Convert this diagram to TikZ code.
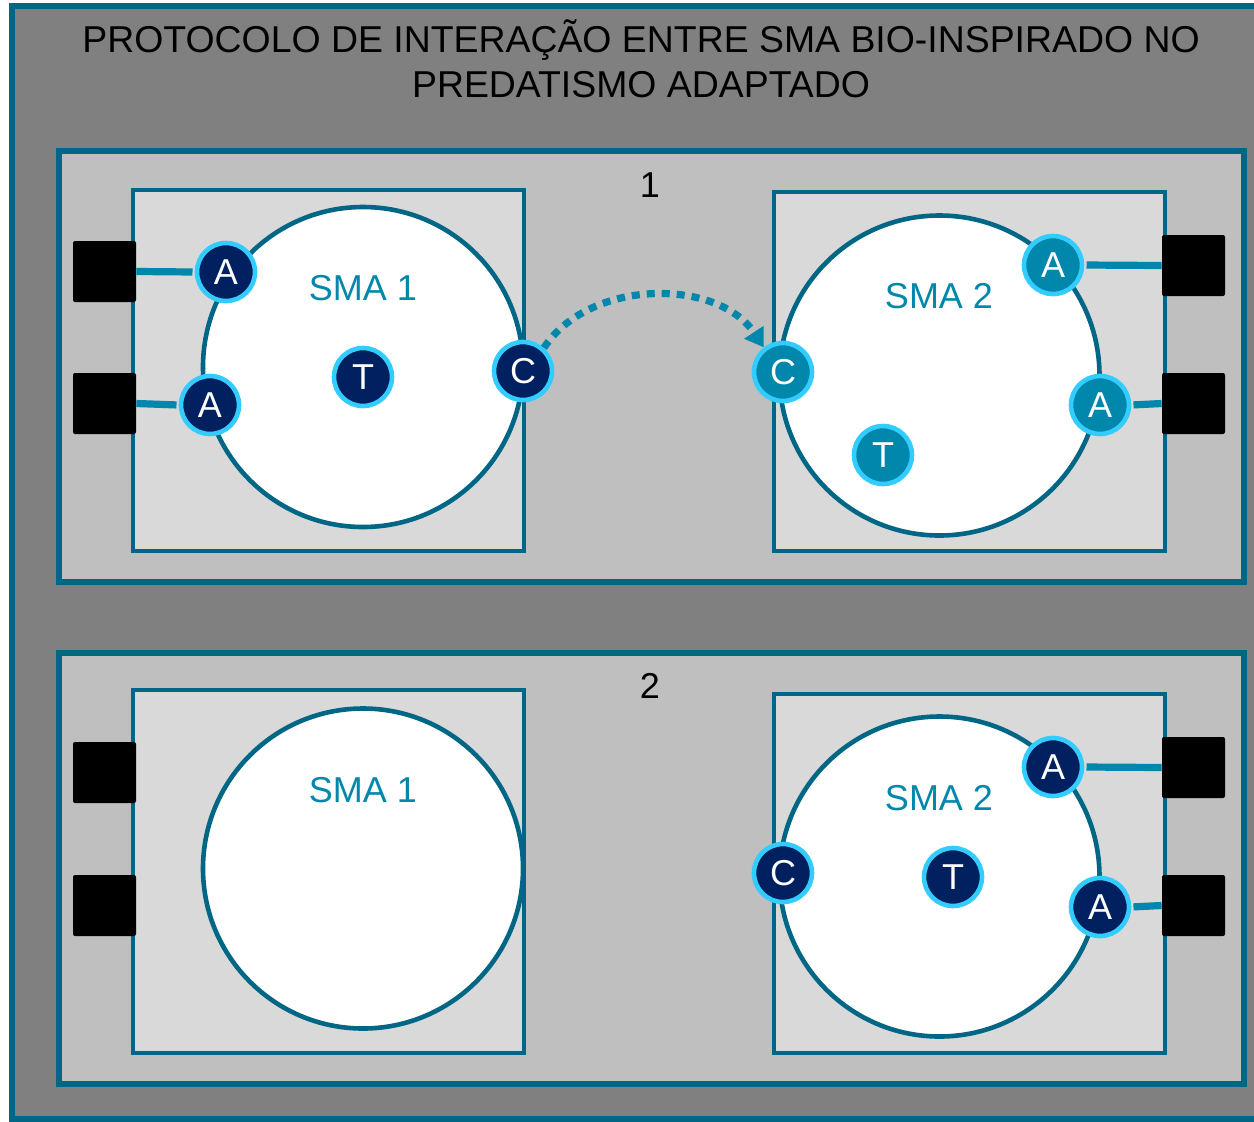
\documentclass[tikz,border=0pt]{standalone}
\usepackage{fontspec}
\setmainfont{Liberation Sans}
\usetikzlibrary{arrows.meta}
\definecolor{edgeteal}{HTML}{006685}
\definecolor{linkteal}{HTML}{0087AB}
\definecolor{navy}{HTML}{002060}
\definecolor{ring}{HTML}{33CCFF}
\definecolor{outergray}{HTML}{808080}
\definecolor{panelgray}{HTML}{BFBFBF}
\definecolor{boxgray}{HTML}{D9D9D9}
\tikzset{
  frame/.style={draw=edgeteal, line width=2.6pt, fill=panelgray},
  sysbox/.style={draw=edgeteal, line width=2pt, fill=boxgray},
  bigcirc/.style={circle, draw=edgeteal, line width=2.3pt, fill=white, minimum size=160pt, inner sep=0pt},
  port/.style={rectangle, fill=black, rounded corners=1pt, minimum width=31.5pt, minimum height=30.5pt, inner sep=0pt},
  agent/.style={circle, draw=ring, line width=2.3pt, minimum size=29pt, inner sep=0pt,
    text=white, font=\fontsize{18}{18}\selectfont},
  darkag/.style={agent, fill=navy},
  lightag/.style={agent, fill=linkteal},
  link/.style={draw=linkteal, line width=3.6pt, shorten >=1.1pt},
  smatext/.style={text=linkteal, font=\fontsize{18}{18}\selectfont, inner sep=0pt},
  numtext/.style={text=black, font=\fontsize{18}{18}\selectfont, inner sep=0pt},
}
\begin{document}
\begin{tikzpicture}[x=0.5pt,y=-0.5pt]
\clip (0,0) rectangle (1254,1121);
\fill[white] (0,0) rectangle (1254,1121);
% outer frame
\draw[frame, fill=outergray] (12,6) rectangle (1300,1119);
\node[align=center, font=\fontsize{18.7}{22.5}\selectfont, inner sep=0pt] (title) at (641,59)
  {PROTOCOLO DE INTERAÇÃO ENTRE SMA BIO-INSPIRADO NO\\PREDATISMO ADAPTADO};

% stage panels
\draw[frame] (59,151) rectangle (1244,582);
\draw[frame] (59,653) rectangle (1244,1084);
\node[numtext] (n1) at (650,185) {1};
\node[numtext] (n2) at (650,686) {2};

% system boxes
\draw[sysbox] (133,190) rectangle (524,551);
\draw[sysbox] (774,192) rectangle (1165,551);
\draw[sysbox] (133,690) rectangle (524,1053);
\draw[sysbox] (774,694) rectangle (1165,1053);

% environments
\node[bigcirc] (env11) at (363,367) {};
\node[bigcirc] (env12) at (939.5,375.5) {};
\node[bigcirc] (env21) at (363,868.5) {};
\node[bigcirc] (env22) at (939.5,876.5) {};

\node[smatext] (s11) at (363,288) {SMA 1};
\node[smatext] (s12) at (939,296) {SMA 2};
\node[smatext] (s21) at (363,790) {SMA 1};
\node[smatext] (s22) at (939,798) {SMA 2};

% ports
\node[port] (p11a) at (104.5,271.5) {};
\node[port] (p11b) at (104.5,403.5) {};
\node[port] (p12a) at (1193.5,265.5) {};
\node[port] (p12b) at (1193.5,403.5) {};
\node[port] (p21a) at (104.5,772.5) {};
\node[port] (p21b) at (104.5,905.5) {};
\node[port] (p22a) at (1193.5,767.5) {};
\node[port] (p22b) at (1193.5,905.5) {};

% agents, stage 1
\node[darkag] (a11a) at (226,272) {A};
\node[darkag] (a11b) at (210,405) {A};
\node[darkag] (t11) at (363,377) {T};
\node[darkag] (c11) at (523,371) {C};
\node[lightag] (a12a) at (1053,265) {A};
\node[lightag] (a12b) at (1100,405) {A};
\node[lightag] (t12) at (883,455) {T};
\node[lightag] (c12) at (783,372) {C};

% agents, stage 2
\node[darkag] (a22a) at (1053,767) {A};
\node[darkag] (a22b) at (1100,907) {A};
\node[darkag] (c22) at (783,873) {C};
\node[darkag] (t22) at (953,877) {T};

% links to ports
\draw[link] (p11a.east) -- (a11a.west);
\draw[link] (p11b.east) -- (a11b.west);
\draw[link] (p12a.west) -- (a12a.east);
\draw[link] (p12b.west) -- (a12b.east);
\draw[link] (p22a.west) -- (a22a.east);
\draw[link] (p22b.west) -- (a22b.east);

% interaction arrow
\draw[draw=linkteal, line width=3.6pt, dash pattern=on 4pt off 3.5pt,
  -{Triangle[length=9pt,width=11pt]}]
  (c11.48) .. controls (590,278) and (718,278) .. (c12.128);
\end{tikzpicture}
\end{document}
